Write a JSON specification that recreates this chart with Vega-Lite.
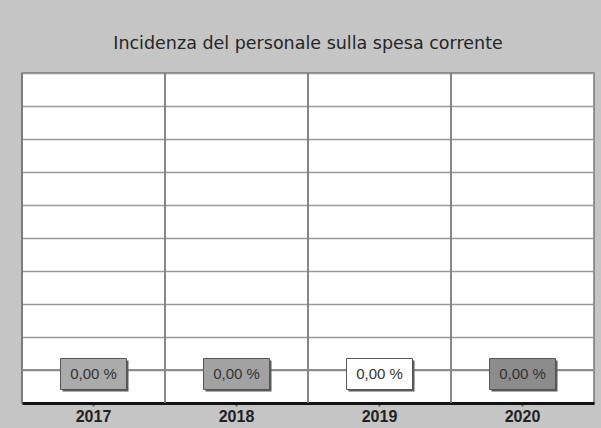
{
  "$schema": "https://vega.github.io/schema/vega-lite/v6.json",
  "width": 572,
  "height": 330,
  "autosize": {"type": "none"},
  "padding": {"left": 22, "top": 73, "right": 7, "bottom": 25},
  "background": "#c5c5c5",
  "config": {"view": {"fill": "white", "stroke": "#777", "strokeWidth": 1.5}},
  "title": {
    "text": "Incidenza del personale sulla spesa corrente",
    "font": "DejaVu Sans",
    "fontSize": 17.5,
    "fontWeight": "normal",
    "color": "#262626",
    "anchor": "middle",
    "offset": 20
  },
  "data": {
    "values": [
      {"anno": "2017", "valore": 0, "etichetta": "0,00 %"},
      {"anno": "2018", "valore": 0, "etichetta": "0,00 %"},
      {"anno": "2019", "valore": 0, "etichetta": "0,00 %"},
      {"anno": "2020", "valore": 0, "etichetta": "0,00 %"}
    ]
  },
  "encoding": {
    "x": {
      "field": "anno",
      "type": "ordinal",
      "scale": {"paddingInner": 0, "paddingOuter": 0},
      "axis": {
        "title": null,
        "labelAngle": 0,
        "labelFont": "Liberation Sans",
        "labelFontSize": 16,
        "labelFontWeight": "bold",
        "labelColor": "#222",
        "labelPadding": 2,
        "domainColor": "#111",
        "domainWidth": 3,
        "tickColor": "#666",
        "tickSize": 3,
        "tickWidth": 2,
        "grid": false
      }
    },
    "y": {
      "field": "valore",
      "type": "quantitative",
      "scale": {"domain": [-1, 9], "nice": false, "zero": false},
      "axis": {
        "title": null,
        "values": [-1, 0, 1, 2, 3, 4, 5, 6, 7, 8, 9],
        "labels": false,
        "ticks": false,
        "domain": false,
        "grid": true,
        "gridColor": "#999",
        "gridWidth": 1.5
      }
    }
  },
  "layer": [
    {
      "mark": {"type": "rule", "color": "#7a7a7a", "strokeWidth": 1.8},
      "encoding": {
        "x": {"field": "anno", "type": "ordinal", "bandPosition": 0},
        "y": null
      }
    },
    {
      "mark": {"type": "rule", "color": "#8a8a8a", "strokeWidth": 1.2},
      "encoding": {
        "x": null
      }
    },
    {
      "mark": {
        "type": "point",
        "shape": "M-1,-0.47H1V0.47H-1Z",
        "size": 4356,
        "filled": true,
        "opacity": 1,
        "color": "#5a5a5a",
        "xOffset": 2,
        "yOffset": 6
      }
    },
    {
      "mark": {
        "type": "point",
        "shape": "M-1,-0.47H1V0.47H-1Z",
        "size": 4356,
        "filled": true,
        "opacity": 1,
        "stroke": "#555",
        "strokeWidth": 1,
        "yOffset": 4
      },
      "encoding": {
        "color": {
          "field": "anno",
          "type": "nominal",
          "scale": {
            "domain": ["2017", "2018", "2019", "2020"],
            "range": ["#ababab", "#a2a2a2", "#ffffff", "#8c8c8c"]
          },
          "legend": null
        }
      }
    },
    {
      "mark": {
        "type": "text",
        "font": "Liberation Sans",
        "fontSize": 15,
        "color": "#333",
        "yOffset": 4
      },
      "encoding": {
        "text": {"field": "etichetta"}
      }
    }
  ]
}
